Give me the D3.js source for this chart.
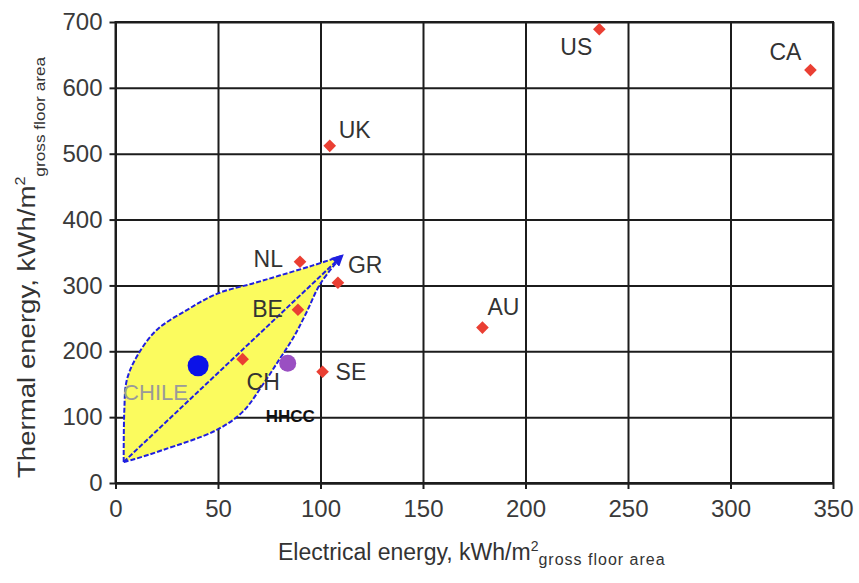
<!DOCTYPE html>
<html>
<head>
<meta charset="utf-8">
<script src="https://cdn.jsdelivr.net/npm/d3@7"></script>
<style>
  body { margin: 0; background: #fff; }
  svg text { font-family: "Liberation Sans", Arial, sans-serif; }
</style>
</head>
<body>
<div id="chart"></div>
<script>
// country benchmarks
const countries = ['US', 'CA', 'UK', 'NL', 'GR', 'BE', 'CH', 'SE', 'AU'];
const elecEnergy = [236, 339, 104.5, 90, 108.5, 89, 62, 101, 179];
const thermEnergy = [689, 627, 512, 336, 304, 263, 188, 169, 236];

// own cases
const caseNames = ['CHILE', 'HHCC'];
const caseElec = [40.3, 84];
const caseTherm = [178, 182];

// envelope of the Chilean range (upper and lower edge, tip to tip)
const envUpperElec = [4, 4.3, 5.5, 10.4, 20, 35, 50, 67, 80, 96, 110.5];
const envUpperTherm = [32, 110, 156, 192, 232, 263, 288, 303, 315, 330, 345];
const envLowerElec = [4, 9, 23, 49, 62, 72, 80, 87, 93, 100, 110.5];
const envLowerTherm = [32, 36, 50, 80, 108, 150, 188, 222, 258, 303, 345];
const diagElec = [4, 110.5];
const diagTherm = [32, 345];

const xTicks = [0, 50, 100, 150, 200, 250, 300, 350];
const yTicks = [0, 100, 200, 300, 400, 500, 600, 700];

// label placement, px offsets from the point
const labelPos = {
  US: { dx: -7, dy: 26, anchor: 'end' },
  CA: { dx: -9, dy: -10, anchor: 'end' },
  UK: { dx: 9, dy: -8, anchor: 'start' },
  NL: { dx: -17, dy: 5, anchor: 'end' },
  GR: { dx: 10, dy: -10, anchor: 'start' },
  BE: { dx: -15, dy: 7, anchor: 'end' },
  CH: { dx: 4, dy: 31, anchor: 'start' },
  SE: { dx: 13, dy: 8, anchor: 'start' },
  AU: { dx: 5, dy: -13, anchor: 'start' }
};

const W = 859, H = 583;
const margin = { top: 22, right: 26, bottom: 100, left: 115.5 };
const width = W - margin.left - margin.right;
const height = H - margin.top - margin.bottom;

const svg = d3.select('#chart').append('svg')
  .attr('width', W)
  .attr('height', H);

const g = svg.append('g')
  .attr('transform', `translate(${margin.left},${margin.top})`);

const x = d3.scaleLinear().domain([0, 350]).range([0, width]);
const y = d3.scaleLinear().domain([0, 700]).range([height, 0]);

// grid
g.append('g')
  .attr('class', 'grid-x')
  .attr('transform', `translate(0,${height})`)
  .call(d3.axisBottom(x).tickValues(xTicks).tickSize(-height).tickFormat(''));
g.append('g')
  .attr('class', 'grid-y')
  .call(d3.axisLeft(y).tickValues(yTicks).tickSize(-width).tickFormat(''));
g.selectAll('.grid-x .domain, .grid-y .domain').remove();
g.selectAll('.grid-x line, .grid-y line')
  .attr('stroke', '#1c1c1c')
  .attr('stroke-width', 2);

// axes
const xAxisG = g.append('g')
  .attr('transform', `translate(0,${height})`)
  .call(d3.axisBottom(x).tickValues(xTicks).tickSizeInner(6).tickSizeOuter(0).tickPadding(11));
const yAxisG = g.append('g')
  .call(d3.axisLeft(y).tickValues(yTicks).tickSizeInner(6).tickSizeOuter(0).tickPadding(7));
[xAxisG, yAxisG].forEach(a => {
  a.select('.domain').attr('stroke', '#1c1c1c').attr('stroke-width', 2);
  a.selectAll('.tick line').attr('stroke', '#1c1c1c').attr('stroke-width', 2);
  a.selectAll('.tick text')
    .attr('fill', '#3a3a3a')
    .style('font-size', '24px')
    .style('font-family', '"Liberation Sans", Arial, sans-serif');
});

// frame top/right
g.append('rect')
  .attr('x', 0).attr('y', 0)
  .attr('width', width).attr('height', height)
  .attr('fill', 'none')
  .attr('stroke', '#1c1c1c')
  .attr('stroke-width', 2);

// envelope
const upper = envUpperElec.map((e, i) => [x(e), y(envUpperTherm[i])]);
const lower = envLowerElec.map((e, i) => [x(e), y(envLowerTherm[i])]);
const curve = d3.line().curve(d3.curveCatmullRom.alpha(0.5));
const envPath = curve(upper) + curve(lower.slice().reverse()).replace(/^M/, 'L') + 'Z';

g.append('path')
  .attr('d', envPath)
  .attr('fill', '#fbfb5e')
  .attr('stroke', 'none');

const blue = '#1f1fe0';
const defs = svg.append('defs');
defs.append('marker')
  .attr('id', 'arrow')
  .attr('viewBox', '0 0 10 10')
  .attr('refX', 8).attr('refY', 5)
  .attr('markerWidth', 6).attr('markerHeight', 6)
  .attr('markerUnits', 'strokeWidth')
  .attr('orient', 'auto')
  .append('path')
  .attr('d', 'M0,0L10,5L0,10Z')
  .attr('fill', blue);

g.append('path')
  .attr('d', curve(upper))
  .attr('fill', 'none')
  .attr('stroke', blue)
  .attr('stroke-width', 2)
  .attr('stroke-dasharray', '5,2');
g.append('path')
  .attr('d', curve(lower))
  .attr('fill', 'none')
  .attr('stroke', blue)
  .attr('stroke-width', 2)
  .attr('stroke-dasharray', '5,2');
g.append('path')
  .attr('d', d3.line()(diagElec.map((e, i) => [x(e), y(diagTherm[i])])))
  .attr('fill', 'none')
  .attr('stroke', blue)
  .attr('stroke-width', 2)
  .attr('stroke-dasharray', '5,2')
  .attr('marker-end', 'url(#arrow)');

// country points
const diamond = d3.symbol().type(d3.symbolSquare).size(80);
g.selectAll('.pt')
  .data(countries)
  .join('path')
  .attr('class', 'pt')
  .attr('d', diamond)
  .attr('transform', (d, i) => `translate(${x(elecEnergy[i])},${y(thermEnergy[i])}) rotate(45)`)
  .attr('fill', '#ea3f33');

g.selectAll('.lbl')
  .data(countries)
  .join('text')
  .attr('class', 'lbl')
  .attr('x', (d, i) => x(elecEnergy[i]) + labelPos[d].dx)
  .attr('y', (d, i) => y(thermEnergy[i]) + labelPos[d].dy)
  .attr('text-anchor', d => labelPos[d].anchor)
  .attr('fill', '#333')
  .style('font-size', '23px')
  .text(d => d);

// own cases
const caseColor = ['#0b12e8', '#9a4fc2'];
const caseR = [10.5, 8.5];
g.selectAll('.case')
  .data(caseNames)
  .join('circle')
  .attr('class', 'case')
  .attr('cx', (d, i) => x(caseElec[i]))
  .attr('cy', (d, i) => y(caseTherm[i]))
  .attr('r', (d, i) => caseR[i])
  .attr('fill', (d, i) => caseColor[i]);

g.append('text')
  .attr('x', x(caseElec[0]) - 75)
  .attr('y', y(caseTherm[0]) + 34)
  .attr('fill', '#9a9a9a')
  .style('font-size', '22px')
  .text(caseNames[0]);
g.append('text')
  .attr('x', x(caseElec[1]) - 22)
  .attr('y', y(caseTherm[1]) + 59)
  .attr('fill', '#111')
  .style('font-size', '17px')
  .style('font-weight', 'bold')
  .style('font-family', '"Liberation Sans Narrow", "Arial Narrow", "Liberation Sans", sans-serif')
  .text(caseNames[1]);

// axis titles
const xt = svg.append('text')
  .attr('x', 278)
  .attr('y', 560)
  .attr('fill', '#333')
  .style('font-size', '23px');
xt.append('tspan').text('Electrical energy, kWh/m');
xt.append('tspan').attr('dy', -9).style('font-size', '14px').text('2');
xt.append('tspan').attr('dy', 14).style('font-size', '16px').attr('letter-spacing', 1).text('gross floor area');

const yt = svg.append('text')
  .attr('transform', 'translate(35,478) scale(1,1.15) rotate(-90)')
  .attr('fill', '#333')
  .style('font-size', '24px');
yt.append('tspan').text('Thermal energy, kWh/m');
yt.append('tspan').attr('dy', -10).style('font-size', '14px').text('2');
yt.append('tspan').attr('dy', 20).style('font-size', '15px').text('gross floor area');
</script>
</body>
</html>
